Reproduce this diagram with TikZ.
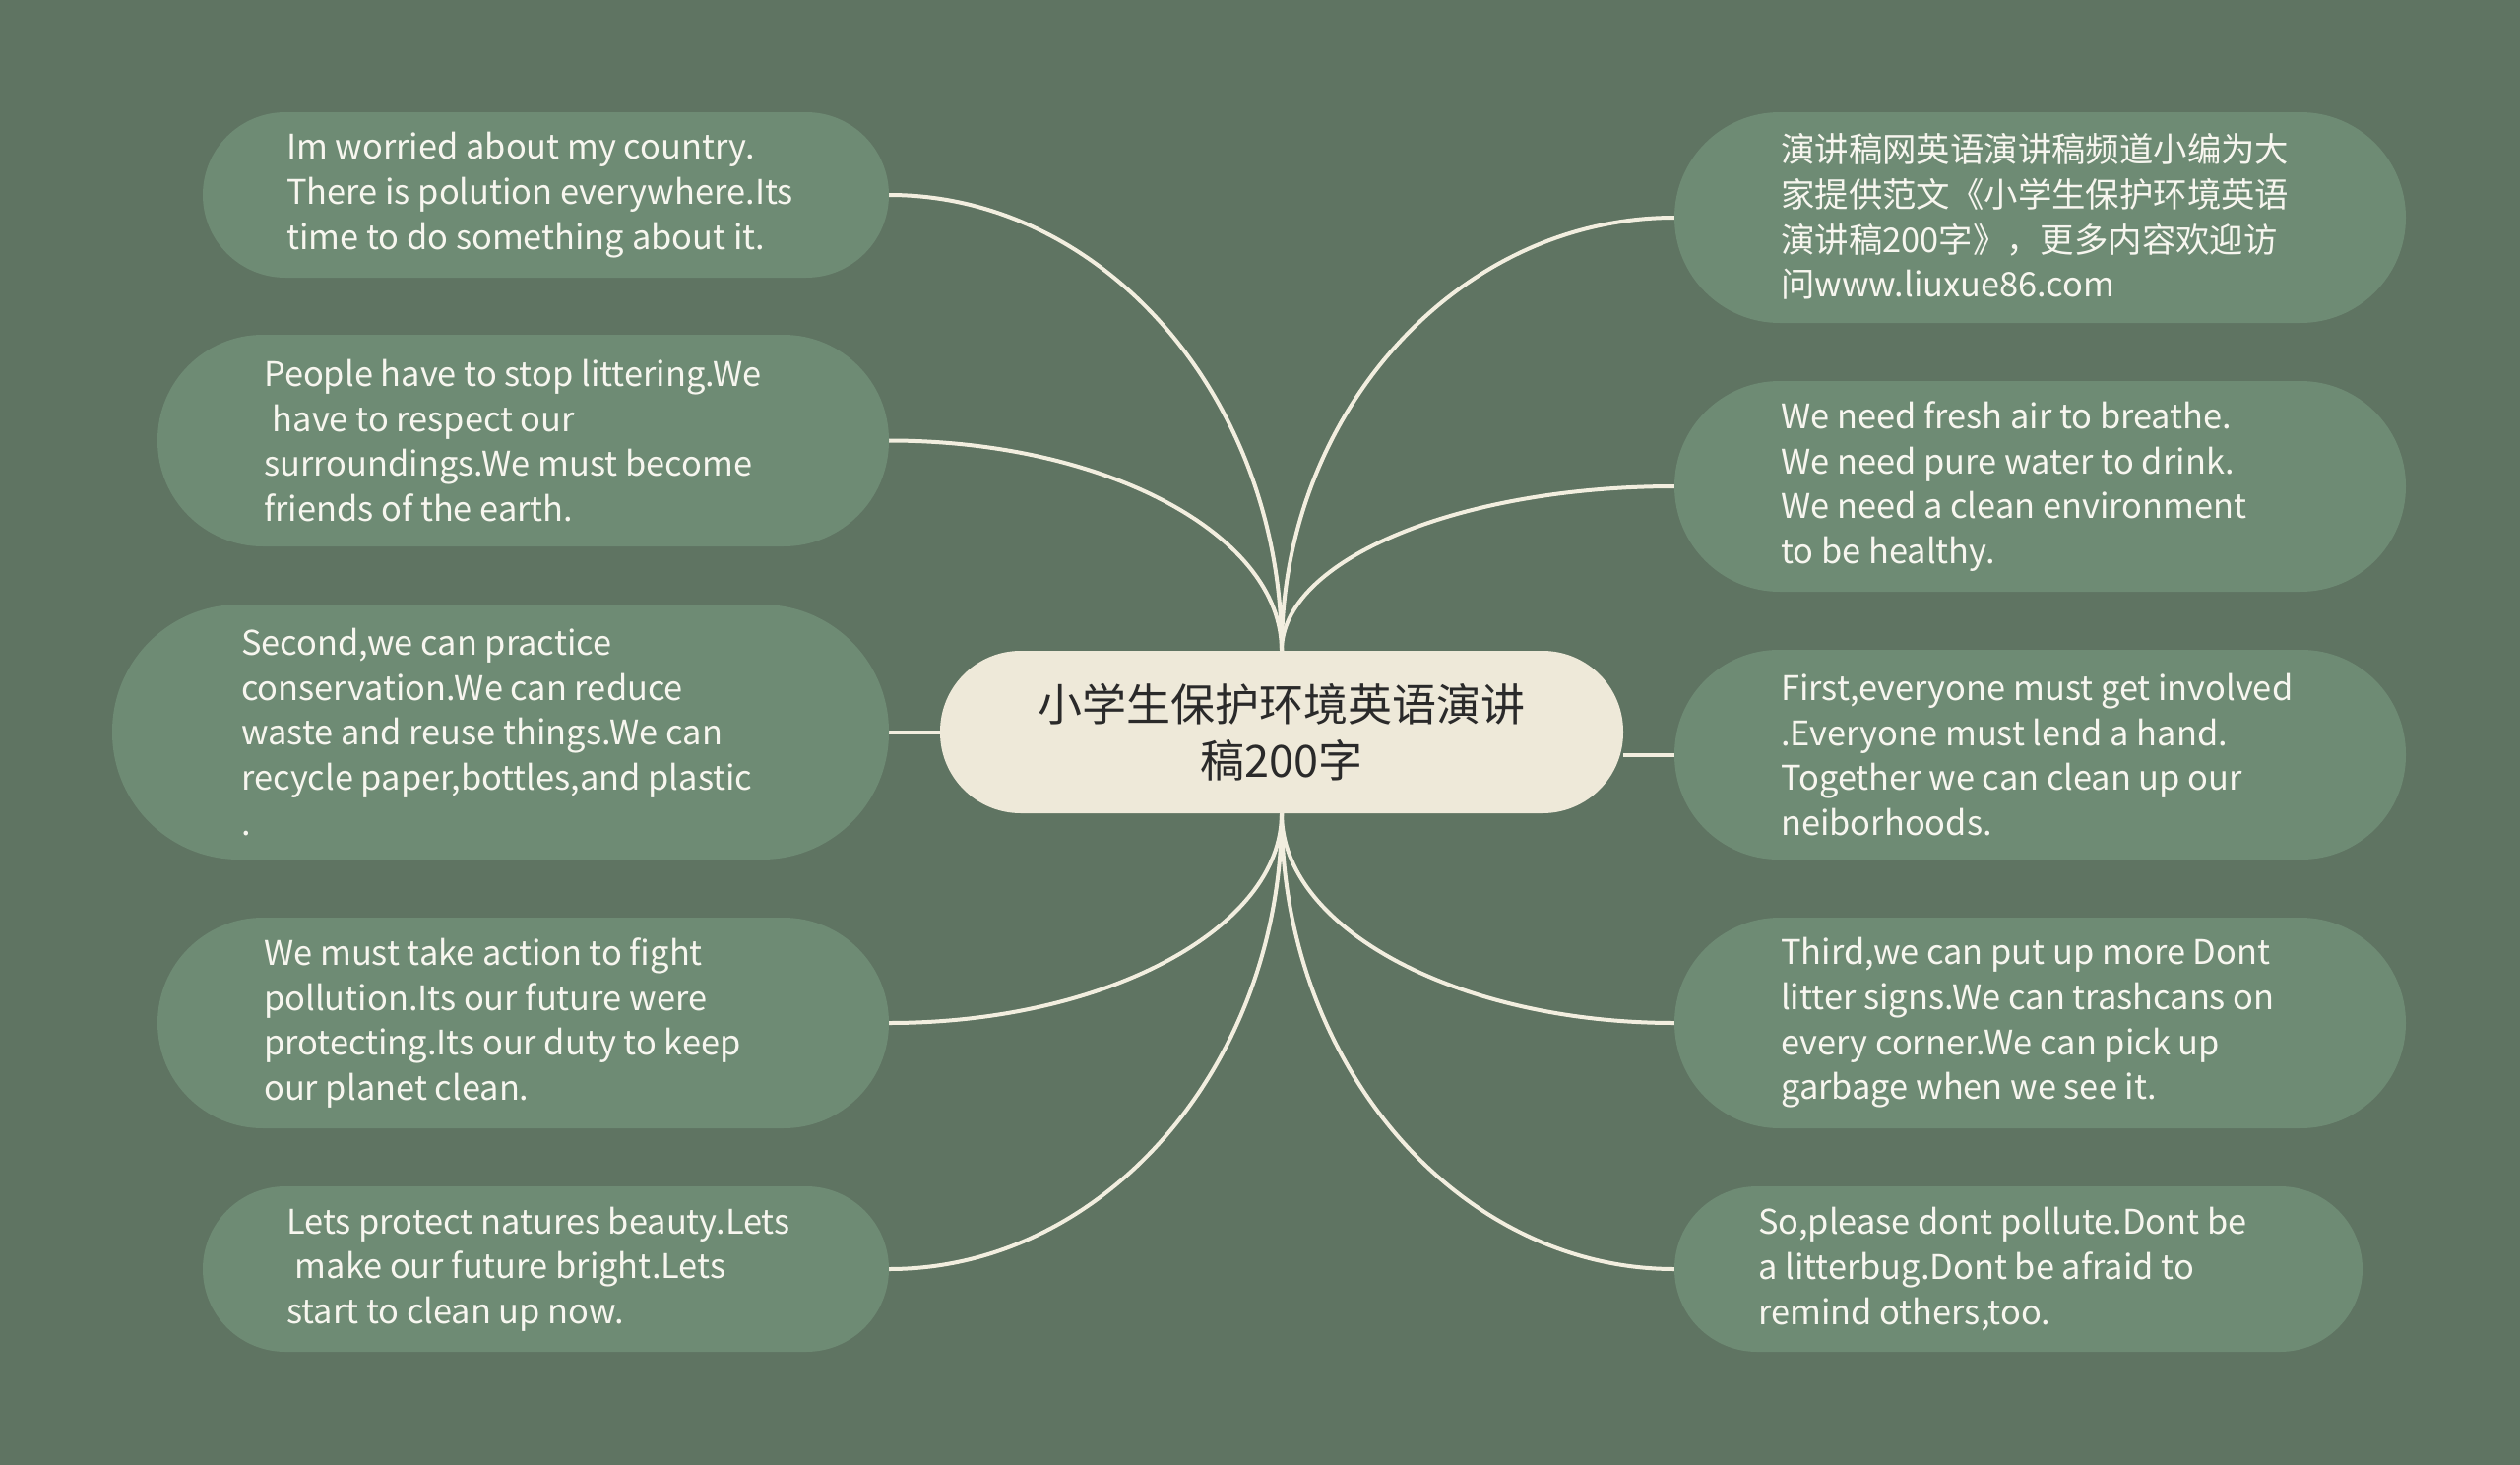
\documentclass[tikz,border=0pt]{standalone}
\usepackage{fontspec}
\setmainfont{Noto Sans CJK SC}
\usetikzlibrary{backgrounds}
\definecolor{bgc}{HTML}{5F7462}
\definecolor{boxc}{HTML}{6E8B74}
\definecolor{ctrc}{HTML}{EEE9D9}
\definecolor{linec}{HTML}{F2EEDF}
\definecolor{txtc}{HTML}{F7F6EF}
\definecolor{ctxt}{HTML}{2A2A2A}
\tikzset{
  leaf/.style={draw=none, fill=boxc, rectangle, inner sep=0pt},
  leaftext/.style={anchor=west, align=left, text=txtc, inner sep=0pt, font=\fontsize{34.4}{45.7}\selectfont},
  conn/.style={draw=linec, line width=4pt},
  ctr/.style={fill=ctrc, rectangle, rounded corners=82pt, minimum width=694pt, minimum height=165pt, inner sep=0pt, align=center, text=ctxt, font=\fontsize{45}{57}\selectfont}
}
\begin{document}
\begin{tikzpicture}[x=1pt,y=-1pt]
\useasboundingbox (0,0) rectangle (2560,1488);
% left boxes
\node[leaf, minimum width=697pt, minimum height=168pt, rounded corners=84pt] (L1) at (554.5,198) {};
\node[leaf, minimum width=743pt, minimum height=215pt, rounded corners=107pt] (L2) at (531.5,447.5) {};
\node[leaf, minimum width=789pt, minimum height=259pt, rounded corners=129pt] (L3) at (508.5,743.5) {};
\node[leaf, minimum width=743pt, minimum height=214pt, rounded corners=107pt] (L4) at (531.5,1039) {};
\node[leaf, minimum width=697pt, minimum height=168pt, rounded corners=84pt] (L5) at (554.5,1289) {};
% right boxes
\node[leaf, minimum width=743pt, minimum height=214pt, rounded corners=107pt] (R1) at (2072.5,221) {};
\node[leaf, minimum width=743pt, minimum height=214pt, rounded corners=107pt] (R2) at (2072.5,494) {};
\node[leaf, minimum width=743pt, minimum height=213pt, rounded corners=106pt] (R3) at (2072.5,766.5) {};
\node[leaf, minimum width=743pt, minimum height=214pt, rounded corners=107pt] (R4) at (2072.5,1039) {};
\node[leaf, minimum width=699pt, minimum height=168pt, rounded corners=84pt] (R5) at (2050.5,1289) {};
% centre
\node[ctr] (c) at (1302,743.5) {小学生保护环境英语演讲\\稿200字};
% texts
\node[leaftext] (tL1) at (291,198) {Im worried about my country.\\There is polution everywhere.Its\\time to do something about it.};
\node[leaftext] (tL2) at (268,447.5) {People have to stop littering.We\\\hspace*{0.25em}have to respect our\\surroundings.We must become\\friends of the earth.};
\node[leaftext] (tL3) at (245,743.5) {Second,we can practice\\conservation.We can reduce\\waste and reuse things.We can\\recycle paper,bottles,and plastic\\.};
\node[leaftext] (tL4) at (268,1039) {We must take action to fight\\pollution.Its our future were\\protecting.Its our duty to keep\\our planet clean.};
\node[leaftext] (tL5) at (291,1289) {Lets protect natures beauty.Lets\\\hspace*{0.25em}make our future bright.Lets\\start to clean up now.};
\node[leaftext] (tR1) at (1809,220) {演讲稿网英语演讲稿频道小编为大\\家提供范文《小学生保护环境英语\\演讲稿200字》，更多内容欢迎访\\问www.liuxue86.com};
\node[leaftext] (tR2) at (1809,494) {We need fresh air to breathe.\\We need pure water to drink.\\We need a clean environment\\to be healthy.};
\node[leaftext] (tR3) at (1809,766.5) {First,everyone must get involved\\.Everyone must lend a hand.\\Together we can clean up our\\neiborhoods.};
\node[leaftext] (tR4) at (1809,1039) {Third,we can put up more Dont\\litter signs.We can trashcans on\\every corner.We can pick up\\garbage when we see it.};
\node[leaftext] (tR5) at (1786,1289) {So,please dont pollute.Dont be\\a litterbug.Dont be afraid to\\remind others,too.};
\begin{pgfonlayer}{background}
\fill[bgc] (0,0) rectangle (2560,1488);
\draw[conn] (L1.east) .. controls +(219,0) and +(0,-255) .. (c.north);
\draw[conn] (L2.east) .. controls +(219,0) and +(0,-118) .. (c.north);
\draw[conn] (L3.east) -- (c.west);
\draw[conn] (L4.east) .. controls +(219,0) and +(0,117) .. (c.south);
\draw[conn] (L5.east) .. controls +(219,0) and +(0,255) .. (c.south);
\draw[conn] (R1.west) .. controls +(-219,0) and +(0,-242) .. (c.north);
\draw[conn] (R2.west) .. controls +(-219,0) and +(0,-92) .. (c.north);
\draw[conn] (R3.west) -- (R3.west -| c.east);
\draw[conn] (R4.west) .. controls +(-219,0) and +(0,117) .. (c.south);
\draw[conn] (R5.west) .. controls +(-219,0) and +(0,255) .. (c.south);
\end{pgfonlayer}
\end{tikzpicture}
\end{document}
